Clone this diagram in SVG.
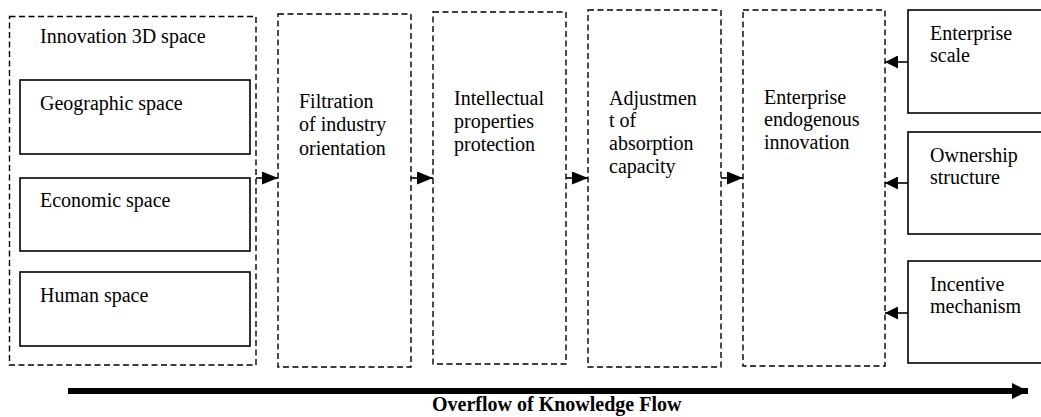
<svg xmlns="http://www.w3.org/2000/svg" width="1041" height="417" viewBox="0 0 1041 417">
<style>
text{font-family:"Liberation Serif","Times New Roman",serif;font-size:20px;fill:#000}
.dash{fill:none;stroke:#000;stroke-width:1.4;stroke-dasharray:6,3.5}
.solid{fill:#fff;stroke:#000;stroke-width:1.6}
.conn{stroke:#000;stroke-width:1.6;fill:none}
.bold{font-weight:bold}
</style>
<defs>
<marker id="ah" markerWidth="10" markerHeight="9" refX="10" refY="4.5" orient="auto" markerUnits="userSpaceOnUse">
<path d="M0,0 L10,4.5 L0,9 Z" fill="#000"/>
</marker>
<marker id="ahs" viewBox="0 0 16 13" markerWidth="16" markerHeight="13" refX="16" refY="6.5" orient="auto" markerUnits="userSpaceOnUse">
<path d="M0,0 L16,6.5 L0,13 Z" fill="#000"/>
</marker>
<marker id="ahr" viewBox="0 0 13 13" markerWidth="13" markerHeight="13" refX="13" refY="6.5" orient="auto" markerUnits="userSpaceOnUse">
<path d="M0,0 L13,6.5 L0,13 Z" fill="#000"/>
</marker>
<marker id="big" viewBox="0 0 16 16" markerWidth="16" markerHeight="16" refX="16" refY="8" orient="auto" markerUnits="userSpaceOnUse">
<path d="M0,0 L16,8 L0,16 Z" fill="#000"/>
</marker>
</defs>
<rect width="1041" height="417" fill="#fff"/>

<g id="innovation-3d-space">
<rect class="dash" x="9.5" y="16.5" width="246.5" height="348.5"/>
<text x="40" y="43">Innovation 3D space</text>
</g>
<g id="geographic-space">
<rect class="solid" x="20" y="80" width="230" height="74"/>
<text x="40" y="110">Geographic space</text>
</g>
<g id="economic-space">
<rect class="solid" x="20" y="178" width="230" height="73"/>
<text x="40" y="207">Economic space</text>
</g>
<g id="human-space">
<rect class="solid" x="20" y="272" width="230" height="74"/>
<text x="40" y="302">Human space</text>
</g>

<g id="filtration">
<rect class="dash" x="278" y="14" width="133" height="353"/>
<text x="299"><tspan x="299" y="108">Filtration</tspan><tspan x="299" y="131">of industry</tspan><tspan x="299" y="155">orientation</tspan></text>
</g>
<g id="ip-protection">
<rect class="dash" x="433" y="12" width="133" height="352"/>
<text x="454"><tspan x="454" y="105">Intellectual</tspan><tspan x="454" y="128">properties</tspan><tspan x="454" y="151">protection</tspan></text>
</g>
<g id="absorption">
<rect class="dash" x="588" y="10" width="133" height="357"/>
<text x="609"><tspan x="609" y="105">Adjustmen</tspan><tspan x="609" y="127">t of</tspan><tspan x="609" y="150">absorption</tspan><tspan x="609" y="173">capacity</tspan></text>
</g>
<g id="endogenous-innovation">
<rect class="dash" x="743" y="10" width="142" height="356"/>
<text x="764"><tspan x="764" y="104">Enterprise</tspan><tspan x="764" y="126">endogenous</tspan><tspan x="764" y="149">innovation</tspan></text>
</g>

<g id="enterprise-scale">
<rect class="solid" x="908" y="10" width="140" height="103"/>
<text x="930"><tspan x="930" y="40">Enterprise</tspan><tspan x="930" y="62">scale</tspan></text>
</g>
<g id="ownership-structure">
<rect class="solid" x="908" y="132" width="140" height="102"/>
<text x="930"><tspan x="930" y="162">Ownership</tspan><tspan x="930" y="184">structure</tspan></text>
</g>
<g id="incentive-mechanism">
<rect class="solid" x="908" y="261" width="140" height="102"/>
<text x="930"><tspan x="930" y="291">Incentive</tspan><tspan x="930" y="313">mechanism</tspan></text>
</g>

<g id="connectors">
<line class="conn" x1="256" y1="178" x2="278" y2="178" marker-end="url(#ahs)"/>
<line class="conn" x1="411" y1="178" x2="433" y2="178" marker-end="url(#ahs)"/>
<line class="conn" x1="566" y1="178" x2="588" y2="178" marker-end="url(#ahs)"/>
<line class="conn" x1="721" y1="178" x2="743" y2="178" marker-end="url(#ahs)"/>
<line class="conn" x1="908" y1="62" x2="885" y2="62" marker-end="url(#ahr)"/>
<line class="conn" x1="908" y1="183" x2="885" y2="183" marker-end="url(#ahr)"/>
<line class="conn" x1="908" y1="313" x2="885" y2="313" marker-end="url(#ahr)"/>
<line x1="68" y1="391" x2="1028" y2="391" stroke="#000" stroke-width="6" marker-end="url(#big)"/>
</g>
<text class="bold" x="432" y="411">Overflow of Knowledge Flow</text>
</svg>
